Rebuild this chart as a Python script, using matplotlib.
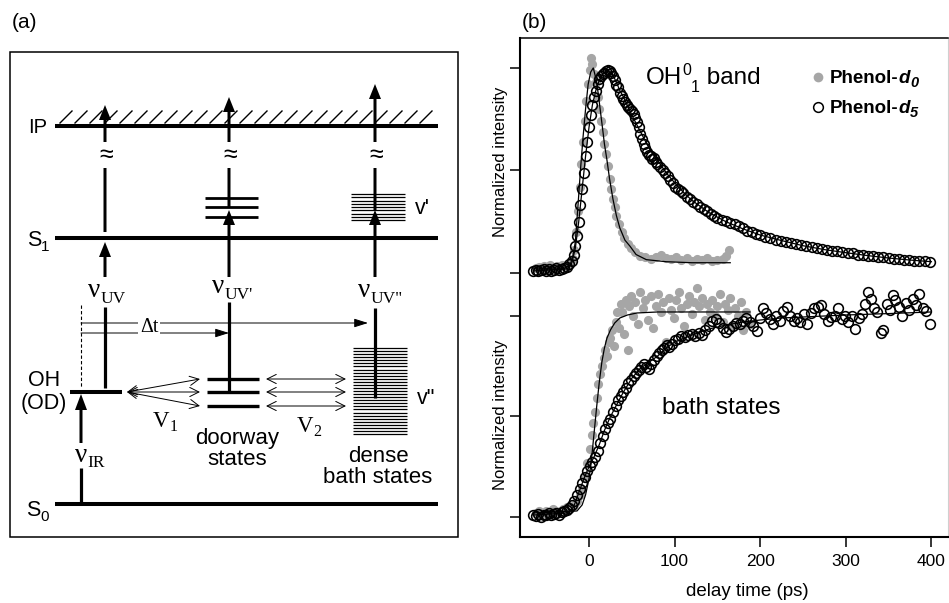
import numpy as np
import matplotlib.pyplot as plt
from matplotlib.patches import Rectangle

plt.rcParams['font.family'] = ['Liberation Sans', 'DejaVu Sans']

# ---- panel (b): normalized intensity vs delay time (ps) ----
# OH 0-1 band, phenol-d0 (grey dots)
band_d0_t = [-62, -58, -55, -52, -49, -46, -43, -40, -37, -34, -31, -28, -25, -22, -19, -17, -15, -13,
             -11, -9, -7, -5, -3, -1, 1, 2, 4, 6, 8, 10, 12, 14, 16, 18, 20, 22, 24, 26, 28, 30, 32,
             35, 38, 41, 45, 49, 54, 60, 66, 72, 78, 84, 90, 96, 102, 108, 114, 120, 126, 132, 138,
             144, 150, 156, 160, 163]
band_d0_v = [0.025, 0.030, 0.020, 0.035, 0.028, 0.040, 0.030, 0.025, 0.035, 0.030, 0.040, 0.035, 0.045,
             0.050, 0.070, 0.110, 0.200, 0.300, 0.420, 0.530, 0.640, 0.740, 0.840, 0.920, 0.990, 1.050,
             1.020, 0.970, 0.930, 0.860, 0.800, 0.740, 0.690, 0.630, 0.580, 0.520, 0.460, 0.410, 0.360,
             0.320, 0.280, 0.240, 0.200, 0.170, 0.140, 0.120, 0.100, 0.085, 0.080, 0.070, 0.080, 0.090,
             0.075, 0.070, 0.080, 0.065, 0.075, 0.060, 0.070, 0.065, 0.075, 0.060, 0.065, 0.070, 0.085,
             0.110]
band_d0_fit_t = [-65, -30, -22, -19, -16, -13, -10, -7, -4, -1, 2, 5, 8, 11, 13, 16, 18, 21, 24, 28, 32,
                 36, 42, 48, 55, 67, 90, 120, 165]
band_d0_fit_v = [0.02, 0.02, 0.04, 0.08, 0.15, 0.32, 0.50, 0.66, 0.80, 0.92, 0.98, 1.00, 0.95, 0.87,
                 0.80, 0.70, 0.63, 0.55, 0.46, 0.36, 0.28, 0.22, 0.16, 0.13, 0.09, 0.065, 0.055, 0.05, 0.05]

# OH 0-1 band, phenol-d5 (open circles)
band_d5_t = [-65, -62, -59, -56, -53, -50, -47, -44, -41, -38, -35, -32, -29, -26, -23, -20, -18, -16,
             -14, -12, -10, -8, -6, -4, -2, 0, 2, 4, 6, 8, 10, 12, 14, 16, 18, 20, 22, 24, 26, 28, 30,
             32, 34, 36, 38, 40, 42, 44, 46, 48, 50, 52, 54, 56, 58, 60, 62, 64, 66, 68, 70, 72, 74,
             76, 78, 80, 83, 86, 89, 92, 95, 98, 101, 104, 107, 110, 114, 118, 122, 126, 130, 134, 138,
             142, 146, 150, 155, 160, 165, 170, 175, 180, 185, 190, 195, 200, 206, 212, 218, 224, 230,
             236, 242, 248, 254, 260, 266, 272, 278, 284, 290, 296, 302, 308, 314, 320, 326, 332, 338,
             344, 350, 356, 362, 368, 374, 380, 386, 392, 398]
band_d5_v = [0.010, 0.016, 0.008, 0.014, 0.020, 0.012, 0.018, 0.010, 0.015, 0.022, 0.016, 0.020, 0.026,
             0.030, 0.045, 0.060, 0.090, 0.130, 0.180, 0.250, 0.330, 0.410, 0.490, 0.570, 0.640, 0.710,
             0.770, 0.820, 0.860, 0.890, 0.920, 0.945, 0.960, 0.970, 0.975, 0.985, 0.990, 0.985, 0.975,
             0.960, 0.940, 0.915, 0.905, 0.880, 0.865, 0.850, 0.835, 0.820, 0.810, 0.800, 0.790, 0.775,
             0.755, 0.735, 0.710, 0.680, 0.655, 0.630, 0.610, 0.590, 0.575, 0.570, 0.555, 0.560, 0.540,
             0.530, 0.515, 0.500, 0.490, 0.475, 0.455, 0.440, 0.420, 0.410, 0.400, 0.390, 0.370, 0.360,
             0.345, 0.335, 0.320, 0.310, 0.300, 0.290, 0.280, 0.270, 0.260, 0.255, 0.245, 0.240, 0.230,
             0.220, 0.205, 0.200, 0.190, 0.185, 0.175, 0.170, 0.160, 0.158, 0.150, 0.148, 0.140, 0.135,
             0.130, 0.125, 0.122, 0.115, 0.112, 0.108, 0.105, 0.100, 0.098, 0.095, 0.090, 0.088, 0.084,
             0.082, 0.078, 0.076, 0.072, 0.070, 0.068, 0.064, 0.062, 0.060, 0.058, 0.056, 0.055]
band_d5_fit_t = [-65, -25, -20, -16, -12, -8, -4, 0, 4, 8, 12, 16, 20, 24, 28, 32, 36, 40, 50, 60, 70, 80,
                 90, 100, 110, 120, 140, 160, 180, 200, 225, 250, 275, 300, 325, 350, 375, 400]
band_d5_fit_v = [0.01, 0.02, 0.05, 0.12, 0.25, 0.41, 0.57, 0.71, 0.82, 0.89, 0.94, 0.97, 0.985, 0.985,
                 0.965, 0.93, 0.89, 0.86, 0.77, 0.69, 0.61, 0.55, 0.49, 0.44, 0.395, 0.355, 0.295, 0.25,
                 0.215, 0.185, 0.158, 0.133, 0.114, 0.099, 0.085, 0.073, 0.063, 0.055]

# bath states, phenol-d0 (grey dots)
bath_d0_t = [-62, -58, -54, -50, -46, -42, -38, -34, -30, -26, -22, -18, -14, -11, -8, -5, -2, 1, 3, 5,
             7, 9, 11, 13, 15, 17, 19, 21, 23, 25, 27, 29, 31, 33, 35, 37, 39, 41, 43, 45, 47, 49, 51,
             54, 57, 60, 63, 66, 69, 72, 75, 78, 81, 84, 87, 90, 93, 96, 99, 102, 105, 108, 111, 114,
             117, 120, 123, 126, 129, 132, 135, 138, 141, 144, 147, 150, 153, 156, 159, 162, 165, 168,
             171, 174, 177, 180, 184, 188]
bath_d0_v = [0.02, 0.03, 0.01, 0.03, 0.02, 0.04, 0.03, 0.02, 0.04, 0.05, 0.05, 0.06, 0.08, 0.11, 0.14,
             0.20, 0.27, 0.34, 0.41, 0.47, 0.52, 0.59, 0.66, 0.71, 0.75, 0.79, 0.83, 0.80, 0.87, 0.89,
             0.93, 0.85, 0.97, 1.02, 0.94, 1.06, 1.02, 0.91, 1.08, 0.83, 1.05, 1.10, 1.00, 1.07, 0.96,
             1.12, 1.04, 1.08, 0.98, 1.10, 0.94, 1.05, 1.11, 1.02, 1.07, 0.87, 1.09, 1.03, 0.99, 1.08,
             1.12, 1.04, 0.95, 1.06, 1.10, 1.01, 1.07, 1.14, 1.05, 1.09, 0.98, 1.06, 1.02, 1.08, 1.00,
             1.05, 1.11, 0.97, 1.06, 1.03, 1.09, 0.95, 1.04, 1.00, 1.07, 0.93, 1.02, 0.96]
bath_d0_fit_t = [-65, -14, -8, -4, 0, 3, 6, 9, 12, 15, 18, 21, 25, 30, 36, 45, 56, 80, 120, 188]
bath_d0_fit_v = [0.02, 0.03, 0.06, 0.11, 0.19, 0.29, 0.42, 0.55, 0.67, 0.77, 0.84, 0.89, 0.93, 0.965,
                 0.99, 1.005, 1.015, 1.02, 1.02, 1.02]

# bath states, phenol-d5 (open circles)
bath_d5_t = [-65, -62, -59, -56, -53, -50, -47, -44, -41, -38, -35, -32, -29, -26, -23, -20, -17, -14,
             -11, -8, -5, -2, 1, 4, 7, 10, 13, 16, 19, 22, 25, 28, 31, 34, 37, 40, 43, 46, 49, 52, 55,
             58, 61, 64, 67, 70, 73, 76, 79, 82, 85, 88, 91, 94, 97, 100, 104, 108, 112, 116, 120, 124,
             128, 132, 136, 140, 144, 148, 152, 156, 160, 164, 168, 172, 176, 180, 184, 188, 192, 196,
             200, 203, 207, 211, 215, 219, 223, 227, 231, 235, 239, 243, 247, 251, 255, 259, 263, 267,
             271, 275, 279, 283, 287, 291, 295, 299, 303, 307, 311, 315, 319, 323, 326, 329, 333, 337,
             341, 344, 348, 352, 355, 358, 362, 366, 370, 374, 378, 382, 386, 390, 394, 398]
bath_d5_v = [0.010, 0.005, 0.015, 0.000, 0.012, 0.008, 0.018, 0.010, 0.015, 0.020, 0.012, 0.025, 0.030,
             0.035, 0.045, 0.060, 0.080, 0.110, 0.140, 0.170, 0.200, 0.230, 0.255, 0.275, 0.300, 0.330,
             0.370, 0.405, 0.440, 0.470, 0.490, 0.520, 0.550, 0.580, 0.600, 0.620, 0.640, 0.665, 0.680,
             0.700, 0.715, 0.730, 0.745, 0.760, 0.745, 0.735, 0.760, 0.780, 0.800, 0.815, 0.830, 0.840,
             0.855, 0.845, 0.860, 0.880, 0.885, 0.900, 0.895, 0.905, 0.910, 0.900, 0.915, 0.905, 0.930,
             0.950, 0.975, 0.985, 0.965, 0.940, 0.920, 0.935, 0.950, 0.965, 0.960, 0.975, 0.990, 0.970,
             0.950, 0.925, 0.990, 1.040, 1.015, 0.985, 0.960, 1.000, 0.975, 1.025, 1.045, 1.000, 0.975,
             0.990, 0.970, 1.010, 0.960, 1.015, 1.040, 1.045, 1.055, 1.010, 0.975, 0.995, 1.000, 1.040,
             0.985, 1.000, 0.970, 1.000, 0.935, 0.990, 1.010, 1.060, 1.120, 1.085, 1.040, 1.020, 0.915,
             0.930, 1.060, 1.030, 1.105, 1.080, 1.045, 1.000, 1.065, 1.030, 1.085, 1.055, 1.110, 1.040,
             1.025, 0.960]
bath_d5_fit_t = [-65, -25, -18, -12, -6, 0, 6, 12, 18, 24, 30, 40, 50, 60, 70, 80, 90, 100, 120, 140,
                 160, 180, 200, 225, 250, 300, 350, 400]
bath_d5_fit_v = [0.01, 0.02, 0.05, 0.12, 0.19, 0.25, 0.30, 0.36, 0.43, 0.49, 0.54, 0.62, 0.69, 0.74,
                 0.77, 0.80, 0.84, 0.87, 0.905, 0.935, 0.955, 0.97, 0.98, 0.99, 0.995, 1.005, 1.012, 1.02]

x_ticks = [0, 100, 200, 300, 400]

# the band trace is stacked above the bath trace
BAND_OFFSET = 1.214
BAND_SCALE = 1.02

GREY = '#a6a6a6'


def band(v):
    return [BAND_OFFSET + BAND_SCALE * y for y in v]


def text_run(ax, x, y, pieces):
    """Place text pieces one after another on a common baseline."""
    renderer = ax.figure.canvas.get_renderer()
    for s, dy, kw in pieces:
        t = ax.text(x, y + dy, s, ha='left', va='baseline', **kw)
        bb = t.get_window_extent(renderer)
        x = ax.transData.inverted().transform((bb.x1, bb.y0))[0]


fig = plt.figure(figsize=(9.49, 6.03), dpi=100)

# ---------------- panel (b) ----------------
ax = fig.add_axes([520 / 949, 66 / 603, 428 / 949, 499 / 603])
ax.plot(band_d0_t, band(band_d0_v), 'o', ms=6.6, mfc=GREY, mec=GREY, mew=0, zorder=2)
ax.plot(bath_d0_t, bath_d0_v, 'o', ms=6.6, mfc=GREY, mec=GREY, mew=0, zorder=2)
ax.plot(band_d5_t, band(band_d5_v), 'o', ms=7, mfc='none', mec='k', mew=1.15, zorder=3)
ax.plot(bath_d5_t, bath_d5_v, 'o', ms=7, mfc='none', mec='k', mew=1.15, zorder=3)
ax.plot(band_d0_fit_t, band(band_d0_fit_v), '-', color='k', lw=0.9, zorder=4)
ax.plot(band_d5_fit_t, band(band_d5_fit_v), '-', color='k', lw=0.9, zorder=4)
ax.plot(bath_d0_fit_t, bath_d0_fit_v, '-', color='k', lw=0.9, zorder=4)
ax.plot(bath_d5_fit_t, bath_d5_fit_v, '-', color='k', lw=0.9, zorder=4)

ax.set_xlim(-80.6, 419.4)
ax.set_ylim(-0.0995, 2.383)
ax.set_xticks(x_ticks)
ax.set_xticklabels([str(x) for x in x_ticks])
ax.set_yticks([0, 0.5, 1.0] + band([0, 0.5, 1.0]))
ax.set_yticklabels([])
ax.tick_params(direction='out', length=7, width=1.1, labelsize=12.5, pad=5)
ax.spines['left'].set_linewidth(1.5)
ax.spines['bottom'].set_linewidth(1.5)
ax.spines['top'].set_linewidth(1.1)
ax.spines['right'].set_linewidth(0.8)
ax.spines['right'].set_color('#d0d0d0')

# ---------------- overlay in pixel coordinates ----------------
ov = fig.add_axes([0, 0, 1, 1], zorder=5)
ov.set_xlim(0, 949)
ov.set_ylim(603, 0)
ov.axis('off')

ov.text(12, 22, '(a)', fontsize=15, va='center')
ov.text(522, 22, '(b)', fontsize=15, va='center')

ov.text(501, 162, 'Normalized intensity', rotation=90, ha='center', va='center', fontsize=12)
ov.text(501, 415, 'Normalized intensity', rotation=90, ha='center', va='center', fontsize=12)
ov.text(747, 592, 'delay time (ps)', ha='center', va='center', fontsize=13.5)

text_run(ov, 646, 84, [('OH', 0, dict(fontsize=17.5)), ('0', -9, dict(fontsize=11.5)),
                       ('1', 8, dict(fontsize=11.5)), (' band', 0, dict(fontsize=17.5))])
ov.text(662, 408, 'bath states', fontsize=17.5, va='center')

ov.plot([818], [77], 'o', ms=7, mfc=GREY, mec=GREY, mew=0)
ov.plot([818], [107], 'o', ms=7, mfc='none', mec='k', mew=1.1)
bold = dict(fontsize=13.5, fontweight='bold')
bold_it = dict(fontsize=13.5, fontweight='bold', fontstyle='italic')
sub_it = dict(fontsize=10.5, fontweight='bold', fontstyle='italic')
text_run(ov, 830, 83, [('Phenol-', 0, bold), ('d', 0, bold_it), ('0', 4, sub_it)])
text_run(ov, 830, 113, [('Phenol-', 0, bold), ('d', 0, bold_it), ('5', 4, sub_it)])

# ---------------- panel (a): energy level diagram ----------------
ov.add_patch(Rectangle((10, 52), 448, 485, fill=False, lw=1.1, ec='k'))

IP_Y, S1_Y, S0_Y = 126, 238, 504
LEVEL_X = (55, 438)
for y in (IP_Y, S1_Y, S0_Y):
    ov.plot(LEVEL_X, [y, y], color='k', lw=2.9, solid_capstyle='butt')
for x0 in np.arange(60, 432, 15):
    ov.plot([x0, x0 + 12], [123, 111], color='k', lw=1.0)

text_run(ov, 28, 133, [('IP', 0, dict(fontsize=14.5))])
text_run(ov, 27, 246, [('S', 0, dict(fontsize=15.5)), ('1', 5, dict(fontsize=11))])
text_run(ov, 26, 516, [('S', 0, dict(fontsize=15.5)), ('0', 5, dict(fontsize=11))])

COL_X = [105, 229, 375]
OH_Y = 392
DOOR_Y = [379, 392, 406]
DOOR_S1_Y = [198, 207, 217]

ov.plot([70, 122], [OH_Y, OH_Y], color='k', lw=2.9, solid_capstyle='butt')
for y in DOOR_Y:
    ov.plot([207, 259], [y, y], color='k', lw=2.4, solid_capstyle='butt')
for y in DOOR_S1_Y:
    ov.plot([205, 258], [y, y], color='k', lw=2.0, solid_capstyle='butt')
for y in np.linspace(194, 220, 9):
    ov.plot([351, 405], [y, y], color='k', lw=0.9, solid_capstyle='butt')
for y in np.linspace(348, 434, 29):
    ov.plot([353, 407], [y, y], color='k', lw=0.9, solid_capstyle='butt')

ov.text(415, 208, "v'", fontsize=15.5, va='center')
ov.text(417, 398, 'v"', fontsize=15.5, va='center')


def up_arrow(x, y0, y1, hl=15, hw=12):
    ov.arrow(x, y0, 0, y1 - y0, width=3, head_width=hw, head_length=hl,
             length_includes_head=True, color='k', lw=0, zorder=4)


def vline(x, y0, y1):
    ov.plot([x, x], [y0, y1], color='k', lw=2.3, solid_capstyle='butt', zorder=4)


# probe pulses: from the lower level up to S1 and on to the ionization limit
vline(COL_X[0], 388, 307)
up_arrow(COL_X[0], 277, 242)
up_arrow(COL_X[0], 232, 105)
vline(COL_X[1], 392, 302)
up_arrow(COL_X[1], 277, 210)
up_arrow(COL_X[1], 207, 97)
vline(COL_X[2], 398, 308)
up_arrow(COL_X[2], 277, 210)
up_arrow(COL_X[2], 210, 84)
for x in COL_X:
    ov.text(x + 1, 155, '\u2248', fontsize=18, ha='center', va='center', zorder=5,
            bbox=dict(fc='white', ec='none', pad=0.5))

serif = 'Liberation Serif'
nu_pieces = [('UV', 297), ("UV'", 293), ('UV"', 297)]
for x, (sub, yb) in zip(COL_X, nu_pieces):
    text_run(ov, x - 17, yb, [('\u03bd', 0, dict(fontsize=19.5, family=serif)),
                              (sub, 6, dict(fontsize=12.5, family=serif))])

# IR pump
vline(81, 504, 468)
up_arrow(81, 443, 394, hl=16, hw=12)
text_run(ov, 75, 462, [('\u03bd', 0, dict(fontsize=19.5, family=serif)),
                       ('IR', 5, dict(fontsize=12.5, family=serif))])

# delay
ov.plot([81, 81], [305, 388], color='k', lw=0.8, ls=(0, (3, 2)))
for y, xt in ((323, 368), (333, 229)):
    ov.annotate('', xy=(xt, y), xytext=(81, y),
                arrowprops=dict(arrowstyle='-|>,head_length=0.7,head_width=0.22', lw=0.7,
                                color='k', shrinkA=0, shrinkB=0, mutation_scale=12))
ov.text(149, 328, '\u0394t', fontsize=14.5, family=serif, ha='center', va='center', zorder=6,
        bbox=dict(fc='white', ec='none', pad=1))

# couplings
for y in DOOR_Y:
    ov.annotate('', xy=(200, y), xytext=(127, OH_Y),
                arrowprops=dict(arrowstyle='<->,head_length=0.6,head_width=0.3', lw=0.7,
                                color='k', shrinkA=0, shrinkB=0, mutation_scale=11))
    ov.annotate('', xy=(346, y), xytext=(266, y),
                arrowprops=dict(arrowstyle='<->,head_length=0.6,head_width=0.3', lw=0.7,
                                color='k', shrinkA=0, shrinkB=0, mutation_scale=11))
text_run(ov, 153, 427, [('V', 0, dict(fontsize=16.5, family=serif)),
                        ('1', 4, dict(fontsize=11.5, family=serif))])
text_run(ov, 297, 432, [('V', 0, dict(fontsize=16.5, family=serif)),
                        ('2', 4, dict(fontsize=11.5, family=serif))])

ov.text(44, 380, 'OH', fontsize=15.5, ha='center', va='center')
ov.text(44, 403, '(OD)', fontsize=15.5, ha='center', va='center')
ov.text(237, 449, 'doorway\nstates', fontsize=16, ha='center', va='center', linespacing=1.0)
ov.text(378, 467, 'dense\nbath states', fontsize=16, ha='center', va='center', linespacing=1.0)

fig.savefig('out.png', dpi=100)
